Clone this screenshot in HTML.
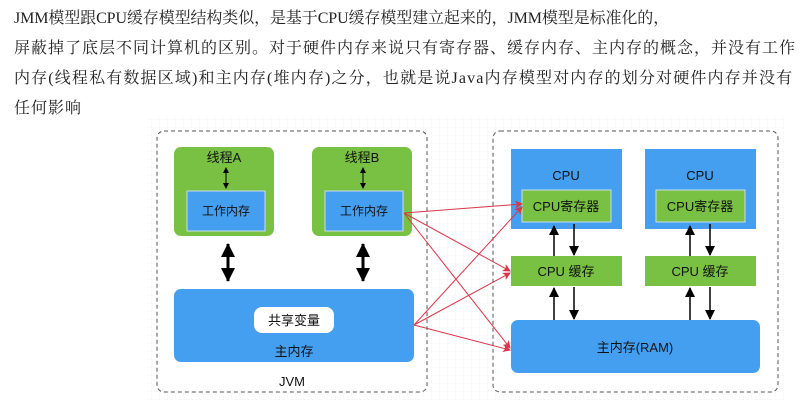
<!DOCTYPE html>
<html><head><meta charset="utf-8"><style>
body{margin:0;width:808px;height:415px;background:#fff;position:relative;overflow:hidden;font-family:"Liberation Serif","Noto Serif CJK SC",serif;}
.t{position:absolute;left:14px;font-size:16px;line-height:30px;color:#222;white-space:nowrap;}
.s{font-family:"Liberation Sans","Noto Sans CJK SC",sans-serif;}
</style></head><body>
<div class="t" style="top:4px;letter-spacing:-0.1px">JMM模型跟CPU缓存模型结构类似，是基于CPU缓存模型建立起来的，JMM模型是标准化的，</div>
<div class="t" style="top:34px;letter-spacing:1px">屏蔽掉了底层不同计算机的区别。对于硬件内存来说只有寄存器、缓存内存、主内存的概念，并没有工作</div>
<div class="t" style="top:64px;letter-spacing:1.15px">内存(线程私有数据区域)和主内存(堆内存)之分，也就是说Java内存模型对内存的划分对硬件内存并没有</div>
<div class="t" style="top:94px;letter-spacing:1px">任何影响</div>
<svg width="808" height="415" style="position:absolute;left:0;top:0" class="s">
<defs>
<pattern id="g" width="8" height="8" patternUnits="userSpaceOnUse"><path d="M8 0V8H0" fill="none" stroke="#eee" stroke-width="0.6"/></pattern>
<marker id="r" markerWidth="8" markerHeight="8" refX="7" refY="4" orient="auto" markerUnits="userSpaceOnUse"><path d="M0,0 L8,4 L0,8 L2,4z" fill="#d9364a"/></marker>
<marker id="b" markerWidth="10" markerHeight="10" refX="9" refY="5" orient="auto" markerUnits="userSpaceOnUse"><path d="M0,0 L10,5 L0,10z" fill="#000"/></marker>
<marker id="bs" markerWidth="6" markerHeight="6" refX="5" refY="3" orient="auto-start-reverse" markerUnits="userSpaceOnUse"><path d="M0,0 L6,3 L0,6z" fill="#000"/></marker>
<marker id="bb" markerWidth="14" markerHeight="14" refX="13" refY="7" orient="auto-start-reverse" markerUnits="userSpaceOnUse"><path d="M0,0 L14,7 L0,14z" fill="#000"/></marker>
</defs>
<rect x="147" y="117" width="638" height="283" fill="url(#g)"/>
<rect x="157" y="131" width="270" height="261" rx="7" fill="#fff" stroke="#555" stroke-dasharray="4,3"/>
<rect x="493" y="131" width="285" height="261" rx="7" fill="#fff" stroke="#555" stroke-dasharray="4,3"/>
<g font-size="13" text-anchor="middle" fill="#111">
<rect x="174" y="147" width="100" height="89" rx="7" fill="#79c142"/>
<rect x="187" y="191" width="78" height="40" fill="#459ff0" stroke="#cde" />
<text x="224" y="162">线程A</text><text x="226" y="215" font-size="12">工作内存</text>
<line x1="226" y1="168" x2="226" y2="188" stroke="#000" marker-start="url(#bs)" marker-end="url(#bs)"/>
<rect x="312" y="147" width="100" height="89" rx="7" fill="#79c142"/>
<rect x="325" y="191" width="78" height="40" fill="#459ff0" stroke="#cde"/>
<text x="362" y="162">线程B</text><text x="364" y="215" font-size="12">工作内存</text>
<line x1="363" y1="168" x2="363" y2="188" stroke="#000" marker-start="url(#bs)" marker-end="url(#bs)"/>
<line x1="228" y1="244" x2="228" y2="281" stroke="#000" stroke-width="3" marker-start="url(#bb)" marker-end="url(#bb)"/>
<line x1="363" y1="244" x2="363" y2="281" stroke="#000" stroke-width="3" marker-start="url(#bb)" marker-end="url(#bb)"/>
<rect x="174" y="289" width="240" height="73" rx="7" fill="#459ff0"/>
<rect x="254" y="307" width="80" height="26" rx="8" fill="#fff"/>
<text x="294" y="325">共享变量</text><text x="294" y="356">主内存</text>
<text x="292" y="386">JVM</text>
<rect x="511" y="149" width="111" height="80" fill="#459ff0"/>
<rect x="522" y="190" width="89" height="32" fill="#79c142" stroke="#cde"/>
<text x="566" y="180">CPU</text><text x="566" y="211">CPU寄存器</text>
<rect x="645" y="149" width="111" height="80" fill="#459ff0"/>
<rect x="656" y="190" width="89" height="32" fill="#79c142" stroke="#cde"/>
<text x="700" y="180">CPU</text><text x="700" y="211">CPU寄存器</text>
<rect x="511" y="256" width="111" height="30" fill="#79c142"/>
<rect x="645" y="256" width="111" height="30" fill="#79c142"/>
<text x="566" y="276">CPU 缓存</text><text x="700" y="276">CPU 缓存</text>
<rect x="511" y="320" width="249" height="53" rx="7" fill="#459ff0"/>
<text x="635" y="352">主内存(RAM)</text>
</g>
<g stroke="#000" stroke-width="1.5">
<line x1="554" y1="256" x2="554" y2="226" marker-end="url(#b)"/><line x1="574" y1="224" x2="574" y2="255" marker-end="url(#b)"/>
<line x1="554" y1="320" x2="554" y2="288" marker-end="url(#b)"/><line x1="574" y1="287" x2="574" y2="319" marker-end="url(#b)"/>
<line x1="690" y1="256" x2="690" y2="226" marker-end="url(#b)"/><line x1="710" y1="224" x2="710" y2="255" marker-end="url(#b)"/>
<line x1="690" y1="320" x2="690" y2="288" marker-end="url(#b)"/><line x1="710" y1="287" x2="710" y2="319" marker-end="url(#b)"/>
</g>
<g stroke="#d9364a" stroke-width="1" fill="none">
<line x1="404" y1="213" x2="522" y2="204" marker-end="url(#r)"/>
<line x1="404" y1="213" x2="510" y2="271" marker-end="url(#r)"/>
<line x1="404" y1="213" x2="510" y2="348" marker-end="url(#r)"/>
<line x1="414" y1="325" x2="522" y2="207" marker-end="url(#r)"/>
<line x1="414" y1="325" x2="510" y2="273" marker-end="url(#r)"/>
<line x1="414" y1="325" x2="510" y2="350" marker-end="url(#r)"/>
</g>
</svg>
</body></html>
